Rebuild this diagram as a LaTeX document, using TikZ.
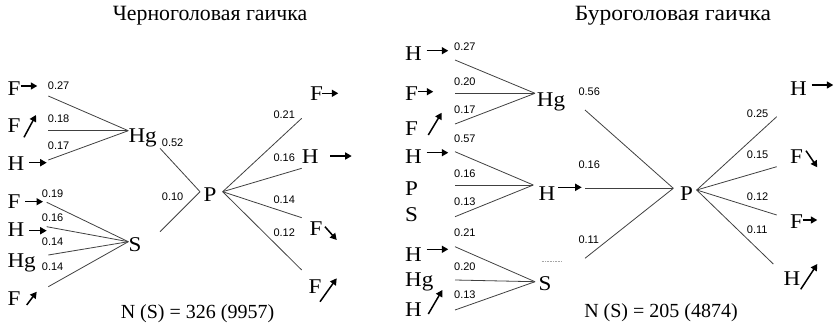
\documentclass[tikz,border=0pt]{standalone}
\usepackage{fontspec}
\setmainfont{Liberation Serif}
\newfontfamily\letterfont[FakeStretch=1.1]{Liberation Serif}
\newfontfamily\titlefontb[FakeStretch=1.08]{Liberation Serif}
\newfontfamily\numfont{Liberation Sans}
\usetikzlibrary{arrows.meta}
\begin{document}
\begin{tikzpicture}[x=1pt,y=-1pt,
  big/.style={font=\letterfont\fontsize{21}{24}\selectfont, inner sep=0pt, anchor=base west},
  bigc/.style={font=\fontsize{21.8}{24}\selectfont, inner sep=0pt, anchor=base},
  totc/.style={font=\fontsize{20}{24}\selectfont, inner sep=0pt, anchor=base},
  num/.style={font=\numfont\fontsize{11}{12}\selectfont, inner sep=0pt, anchor=base west},
  link/.style={draw=black!75, line width=0.8pt},
  mv/.style={-{Triangle[length=6.5pt,width=7pt]}, line width=1.5pt}]
\useasboundingbox (0,0) rectangle (834,330);

% titles and totals
\node[bigc] (t1) at (210,20) {Черноголовая гаичка};
\node[bigc, font=\titlefontb\fontsize{21.8}{24}\selectfont] (t2) at (673,20) {Буроголовая гаичка};
\node[totc] (b1) at (197.5,318) {N (S) = 326 (9957)};
\node[totc] (b2) at (661,317) {N (S) = 205 (4874)};

% ===== left: Hg group
\node[big] (lf1) at (7.3,95) {F};   \draw[mv] (20.7,86) -- (37.3,86);
\node[big] (lf2) at (7.3,132) {F};  \draw[mv] (24,137.3) -- (36,115);
\node[big] (lh3) at (7.3,170) {H};  \draw[mv] (29.3,162.7) -- (46.7,162.7);
\node[num] (ln1) at (47.7,89.3) {0.27};
\node[num] (ln2) at (47.7,122.7) {0.18};
\node[num] (ln3) at (47.7,149.3) {0.17};
\coordinate (lhgin) at (128.3,130.7);
\node[big] (lhg) at (128.3,142) {Hg};
\coordinate (le1) at (48.3,96);
\coordinate (le2) at (48.3,130.7);
\coordinate (le3) at (48.3,160);
\draw[link] (le1) -- (lhgin);
\draw[link] (le2) -- (lhgin);
\draw[link] (le3) -- (lhgin);

% ===== left: S group
\node[big] (lf4) at (7.3,208) {F};    \draw[mv] (25,201.7) -- (43,201.7);
\node[big] (lh5) at (7.3,236.7) {H};  \draw[mv] (29.3,230.7) -- (46.7,230.7);
\node[big] (lhg6) at (7.3,267.7) {Hg};
\node[big] (lf7) at (7.3,305) {F};    \draw[mv] (26.7,305) -- (36.7,291.7);
\node[num] (ln4) at (41.7,197.3) {0.19};
\node[num] (ln5) at (41.7,221.7) {0.16};
\node[num] (ln6) at (41.7,245) {0.14};
\node[num] (ln7) at (41.7,270.7) {0.14};
\coordinate (lsin) at (128.3,241.7);
\node[big] (ls) at (128.3,251.7) {S};
\coordinate (le4) at (46.7,202.3);
\coordinate (le5) at (46.7,226.7);
\coordinate (le6) at (48.3,255);
\coordinate (le7) at (48.3,286.7);
\draw[link] (le4) -- (lsin);
\draw[link] (le5) -- (lsin);
\draw[link] (le6) -- (lsin);
\draw[link] (le7) -- (lsin);

% ===== left: P
\node[num] (ln8) at (161.7,146) {0.52};
\node[num] (ln9) at (161.7,200) {0.10};
\coordinate (lpa) at (160,148.3);
\coordinate (lpb) at (160,231.7);
\coordinate (lpin) at (200,191.7);
\coordinate (lpout) at (222.7,191.7);
\node[big] (lp) at (203.3,201.7) {P};
\draw[link] (lpa) -- (lpin);
\draw[link] (lpb) -- (lpin);
\coordinate (lo1) at (301.7,118.3);
\coordinate (lo2) at (301.7,168.3);
\coordinate (lo3) at (301.7,217.7);
\coordinate (lo4) at (301.7,270);
\draw[link] (lpout) -- (lo1);
\draw[link] (lpout) -- (lo2);
\draw[link] (lpout) -- (lo3);
\draw[link] (lpout) -- (lo4);
\node[num] (ln10) at (273.3,118.3) {0.21};
\node[num] (ln11) at (273.3,161.7) {0.16};
\node[num] (ln12) at (273.3,203.3) {0.14};
\node[num] (ln13) at (273.3,236.7) {0.12};
\node[big] (lr1) at (310,100) {F};      \draw[mv] (321.7,93.3) -- (338.3,93.3);
\node[big] (lr2) at (301.7,163.3) {H};  \draw[mv] (330,156) -- (351.7,156);
\node[big] (lr3) at (309.3,235) {F};    \draw[mv] (325,226.7) -- (336.7,240);
\node[big] (lr4) at (308.3,293.3) {F};  \draw[mv] (320,301.7) -- (336.7,278.3);

% ===== right: Hg group
\node[big] (rh1) at (405,60) {H};    \draw[mv] (426.7,50.7) -- (448.3,50.7);
\node[big] (rf2) at (405,100) {F};   \draw[mv] (418.3,91.7) -- (433.3,91.7);
\node[big] (rf3) at (405,135) {F};   \draw[mv] (428.3,135) -- (441.7,112.7);
\node[num] (rn1) at (454,50.7) {0.27};
\node[num] (rn2) at (454,85) {0.20};
\node[num] (rn3) at (454,113.3) {0.17};
\coordinate (rhgin) at (535,93.3);
\node[big] (rhg) at (536.7,106.7) {Hg};
\coordinate (re1) at (455,60);
\coordinate (re2) at (455,93.3);
\coordinate (re3) at (455,124);
\draw[link] (re1) -- (rhgin);
\draw[link] (re2) -- (rhgin);
\draw[link] (re3) -- (rhgin);

% ===== right: H group
\node[big] (rh4) at (405,163.3) {H};  \draw[mv] (426.7,152.7) -- (448.3,152.7);
\node[big] (rp5) at (405,195) {P};
\node[big] (rs6) at (405,221.7) {S};
\node[num] (rn4) at (454,142.7) {0.57};
\node[num] (rn5) at (454,177.3) {0.16};
\node[num] (rn6) at (454,205) {0.13};
\coordinate (rhin) at (533.3,185);
\node[big] (rh) at (538.3,200) {H};
\draw[mv] (558.3,187.3) -- (581.7,187.3);
\coordinate (re4) at (455,151.7);
\coordinate (re5) at (455,185);
\coordinate (re6) at (455,216.7);
\draw[link] (re4) -- (rhin);
\draw[link] (re5) -- (rhin);
\draw[link] (re6) -- (rhin);

% ===== right: S group
\node[big] (rh7) at (405,261.7) {H};   \draw[mv] (426.7,249.3) -- (448.3,249.3);
\node[big] (rhg8) at (405,286.7) {Hg};
\node[big] (rh9) at (405,316.7) {H};   \draw[mv] (428.3,314) -- (442.3,290);
\node[num] (rn7) at (454,236) {0.21};
\node[num] (rn8) at (454,270.7) {0.20};
\node[num] (rn9) at (454,298.3) {0.13};
\coordinate (rsin) at (535,281.7);
\node[big] (rs) at (538.3,290) {S};
\coordinate (re7) at (455,246.7);
\coordinate (re8) at (455,280);
\coordinate (re9) at (455,310);
\draw[link] (re7) -- (rsin);
\draw[link] (re8) -- (rsin);
\draw[link] (re9) -- (rsin);
\draw[black!35, line width=0.6pt, dash pattern=on 1pt off 0.6pt] (541.7,261.7) -- (561.7,261.7);

% ===== right: P
\node[num] (rn10) at (578.3,95) {0.56};
\node[num] (rn11) at (578.3,168.3) {0.16};
\node[num] (rn12) at (578.3,243.3) {0.11};
\coordinate (rpa) at (585,110);
\coordinate (rpb) at (585,188.3);
\coordinate (rpc) at (585,258.3);
\coordinate (rpin) at (673.3,188.3);
\coordinate (rpout) at (696.7,190);
\node[big] (rp) at (680,200) {P};
\draw[link] (rpa) -- (rpin);
\draw[link] (rpb) -- (rpin);
\draw[link] (rpc) -- (rpin);
\coordinate (ro1) at (776.7,116.7);
\coordinate (ro2) at (776.7,166.7);
\coordinate (ro3) at (776.7,215);
\coordinate (ro4) at (773.3,264);
\draw[link] (rpout) -- (ro1);
\draw[link] (rpout) -- (ro2);
\draw[link] (rpout) -- (ro3);
\draw[link] (rpout) -- (ro4);
\node[num] (rn13) at (746.7,117.3) {0.25};
\node[num] (rn14) at (746.7,158.3) {0.15};
\node[num] (rn15) at (746.7,200) {0.12};
\node[num] (rn16) at (746.7,233.3) {0.11};
\node[big] (rr1) at (790,95) {H};     \draw[mv] (811.7,85) -- (833.3,85);
\node[big] (rr2) at (790,163.3) {F};  \draw[mv] (806,150.7) -- (817.3,167.3);
\node[big] (rr3) at (790,228.3) {F};  \draw[mv] (802.7,220) -- (817.3,220);
\node[big] (rr4) at (783.3,285) {H};  \draw[mv] (800.7,289.3) -- (817.3,264);
\end{tikzpicture}
\end{document}
